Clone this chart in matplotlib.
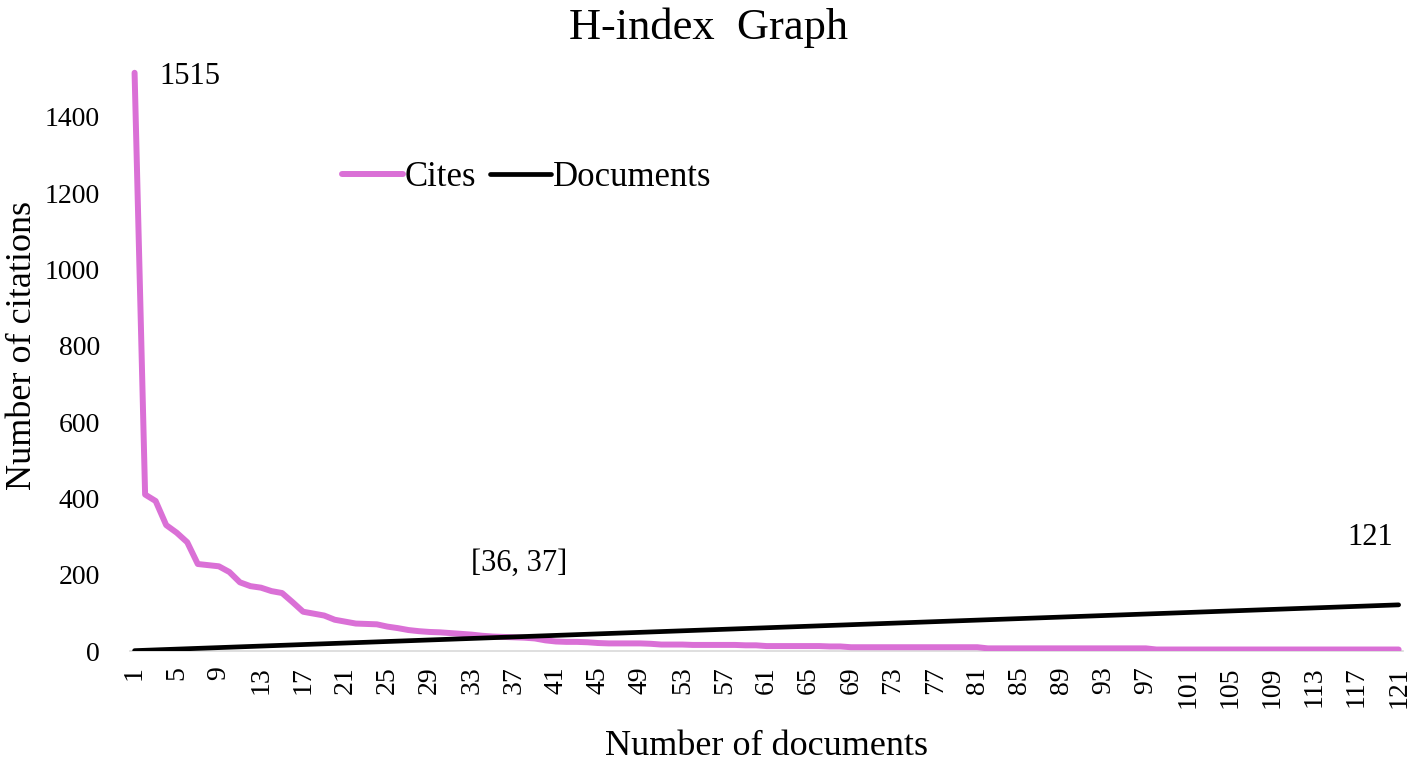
import matplotlib.pyplot as plt
import numpy as np

plt.rcParams["font.family"] = ["Liberation Serif", "DejaVu Serif"]

# citations per document, sorted descending
cites = (
    [1515, 410, 393, 330, 310, 285, 228, 225, 222, 207,
     180, 170, 166, 157, 152, 128, 103, 98, 93, 82,
     77, 72, 71, 70, 64, 60, 55, 52, 50, 49,
     47, 45, 43, 40, 38, 37, 36, 35, 33, 28,
     25, 24, 24, 23, 21, 20, 20, 20, 20, 19,
     17, 17, 17, 16, 16, 16, 16, 16, 15, 15,
     13, 13, 13, 13, 13, 13, 12, 12, 10, 10,
     10, 10, 10, 10, 10, 10, 10, 10, 10, 10,
     10, 7, 7, 7, 7, 7, 7, 7, 7, 7,
     7, 7, 7, 7, 7, 7, 7, 4, 4, 4,
     4, 4, 4, 4, 4, 4, 4, 4, 4, 4,
     4, 4, 4, 4, 4, 4, 4, 4, 4, 4,
     4]
)
documents = list(range(1, 122))
tick_docs = list(range(1, 122, 4))

fig = plt.figure(figsize=(14.17, 7.61), dpi=100)
ax = fig.add_axes([0.092, 0.1445, 0.898, 0.8025])

ax.plot(documents, cites, color="#DA70D6", lw=4.3, label="Cites",
        solid_capstyle="round", solid_joinstyle="round")
ax.plot(documents, documents, color="black", lw=3.4, label="Documents",
        solid_capstyle="round")

ax.set_xlim(0.6, 121.4)
ax.set_ylim(0, 1600)
ax.set_yticks(np.arange(0, 1401, 200))
ax.set_xticks(tick_docs)
ax.set_xticklabels([str(t) for t in tick_docs], rotation=90)
ax.tick_params(axis="both", length=0, labelsize=20, colors="black")
ax.tick_params(axis="y", pad=22)
ax.tick_params(axis="x", pad=11)

for side in ("top", "right", "left"):
    ax.spines[side].set_visible(False)
ax.spines["bottom"].set_color("#d9d9d9")
ax.spines["bottom"].set_linewidth(1.2)
ax.spines["bottom"].set_zorder(0)

# data labels
ax.text(3.4, 1505, "1515", fontsize=22, va="center", ha="left")
ax.text(37.5, 230, "[36, 37]", fontsize=22, va="center", ha="center")
ax.text(118.3, 298, "121", fontsize=22, va="center", ha="center")

ax.set_xlabel("Number of documents", fontsize=26, labelpad=16)
ax.set_ylabel("Number of citations", fontsize=26, labelpad=4)
fig.suptitle("H-index  Graph", fontsize=32, y=0.99)

ax.legend(loc="center left", bbox_to_anchor=(0.142, 0.775), ncol=2, frameon=False,
          fontsize=25, handlelength=1.75, handletextpad=0.05, columnspacing=0.4)

fig.savefig("out.png", dpi=100)
